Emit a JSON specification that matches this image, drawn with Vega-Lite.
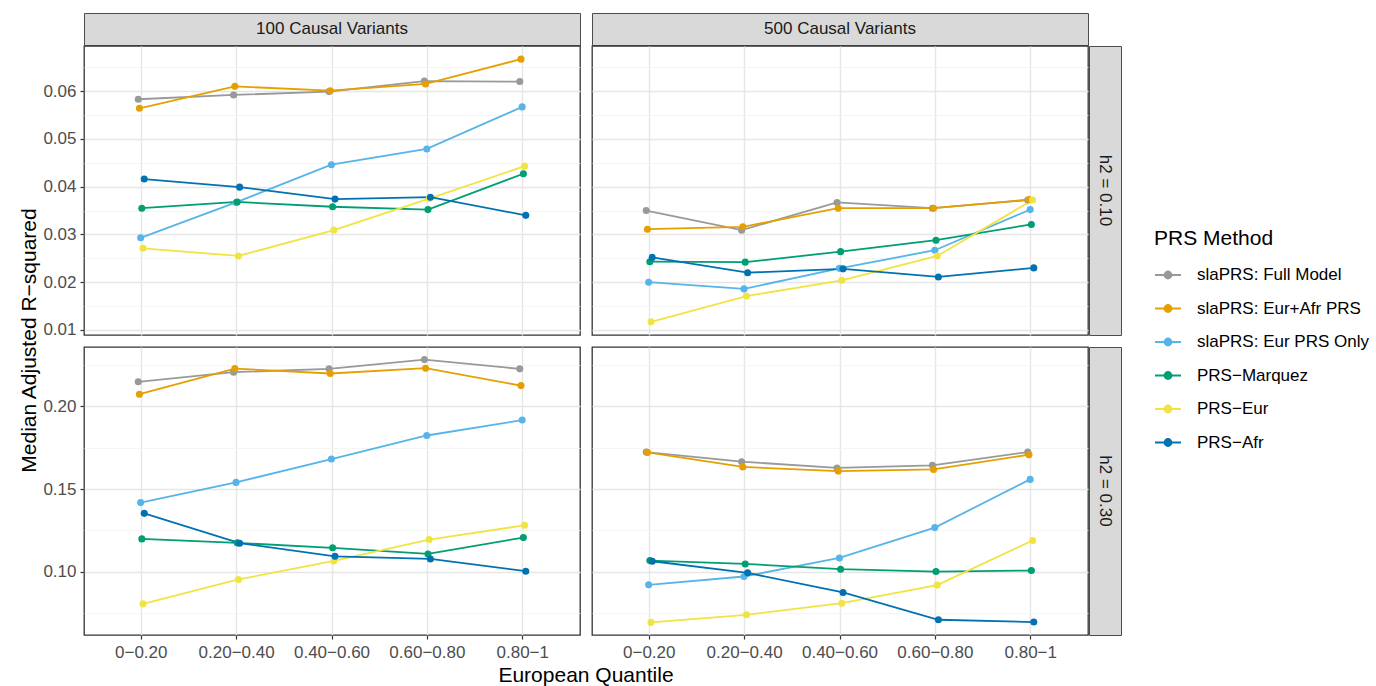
{
  "$schema": "https://vega.github.io/schema/vega-lite/v6.json",
  "background": "white",
  "padding": {"left": 19, "top": 12, "right": 5, "bottom": 0},
  "config": {
    "font": "Liberation Sans",
    "view": {"stroke": null},
    "text": {"font": "Liberation Sans"}
  },
  "datasets": {
    "prs": [
      {"variants":"100 Causal Variants","h2":"h2 = 0.10","quantile":"0−0.20","method":"slaPRS: Full Model","r2":0.0583},
      {"variants":"100 Causal Variants","h2":"h2 = 0.10","quantile":"0.20−0.40","method":"slaPRS: Full Model","r2":0.0592},
      {"variants":"100 Causal Variants","h2":"h2 = 0.10","quantile":"0.40−0.60","method":"slaPRS: Full Model","r2":0.0599},
      {"variants":"100 Causal Variants","h2":"h2 = 0.10","quantile":"0.60−0.80","method":"slaPRS: Full Model","r2":0.0621},
      {"variants":"100 Causal Variants","h2":"h2 = 0.10","quantile":"0.80−1","method":"slaPRS: Full Model","r2":0.0620},
      {"variants":"100 Causal Variants","h2":"h2 = 0.10","quantile":"0−0.20","method":"slaPRS: Eur+Afr PRS","r2":0.0564},
      {"variants":"100 Causal Variants","h2":"h2 = 0.10","quantile":"0.20−0.40","method":"slaPRS: Eur+Afr PRS","r2":0.0610},
      {"variants":"100 Causal Variants","h2":"h2 = 0.10","quantile":"0.40−0.60","method":"slaPRS: Eur+Afr PRS","r2":0.0601},
      {"variants":"100 Causal Variants","h2":"h2 = 0.10","quantile":"0.60−0.80","method":"slaPRS: Eur+Afr PRS","r2":0.0615},
      {"variants":"100 Causal Variants","h2":"h2 = 0.10","quantile":"0.80−1","method":"slaPRS: Eur+Afr PRS","r2":0.0667},
      {"variants":"100 Causal Variants","h2":"h2 = 0.10","quantile":"0−0.20","method":"slaPRS: Eur PRS Only","r2":0.0293},
      {"variants":"100 Causal Variants","h2":"h2 = 0.10","quantile":"0.20−0.40","method":"slaPRS: Eur PRS Only","r2":0.0367},
      {"variants":"100 Causal Variants","h2":"h2 = 0.10","quantile":"0.40−0.60","method":"slaPRS: Eur PRS Only","r2":0.0446},
      {"variants":"100 Causal Variants","h2":"h2 = 0.10","quantile":"0.60−0.80","method":"slaPRS: Eur PRS Only","r2":0.0479},
      {"variants":"100 Causal Variants","h2":"h2 = 0.10","quantile":"0.80−1","method":"slaPRS: Eur PRS Only","r2":0.0567},
      {"variants":"100 Causal Variants","h2":"h2 = 0.10","quantile":"0−0.20","method":"PRS−Marquez","r2":0.0355},
      {"variants":"100 Causal Variants","h2":"h2 = 0.10","quantile":"0.20−0.40","method":"PRS−Marquez","r2":0.0368},
      {"variants":"100 Causal Variants","h2":"h2 = 0.10","quantile":"0.40−0.60","method":"PRS−Marquez","r2":0.0358},
      {"variants":"100 Causal Variants","h2":"h2 = 0.10","quantile":"0.60−0.80","method":"PRS−Marquez","r2":0.0352},
      {"variants":"100 Causal Variants","h2":"h2 = 0.10","quantile":"0.80−1","method":"PRS−Marquez","r2":0.0427},
      {"variants":"100 Causal Variants","h2":"h2 = 0.10","quantile":"0−0.20","method":"PRS−Eur","r2":0.0271},
      {"variants":"100 Causal Variants","h2":"h2 = 0.10","quantile":"0.20−0.40","method":"PRS−Eur","r2":0.0255},
      {"variants":"100 Causal Variants","h2":"h2 = 0.10","quantile":"0.40−0.60","method":"PRS−Eur","r2":0.0309},
      {"variants":"100 Causal Variants","h2":"h2 = 0.10","quantile":"0.60−0.80","method":"PRS−Eur","r2":0.0375},
      {"variants":"100 Causal Variants","h2":"h2 = 0.10","quantile":"0.80−1","method":"PRS−Eur","r2":0.0443},
      {"variants":"100 Causal Variants","h2":"h2 = 0.10","quantile":"0−0.20","method":"PRS−Afr","r2":0.0416},
      {"variants":"100 Causal Variants","h2":"h2 = 0.10","quantile":"0.20−0.40","method":"PRS−Afr","r2":0.0399},
      {"variants":"100 Causal Variants","h2":"h2 = 0.10","quantile":"0.40−0.60","method":"PRS−Afr","r2":0.0374},
      {"variants":"100 Causal Variants","h2":"h2 = 0.10","quantile":"0.60−0.80","method":"PRS−Afr","r2":0.0378},
      {"variants":"100 Causal Variants","h2":"h2 = 0.10","quantile":"0.80−1","method":"PRS−Afr","r2":0.0340},

      {"variants":"500 Causal Variants","h2":"h2 = 0.10","quantile":"0−0.20","method":"slaPRS: Full Model","r2":0.0350},
      {"variants":"500 Causal Variants","h2":"h2 = 0.10","quantile":"0.20−0.40","method":"slaPRS: Full Model","r2":0.0309},
      {"variants":"500 Causal Variants","h2":"h2 = 0.10","quantile":"0.40−0.60","method":"slaPRS: Full Model","r2":0.0367},
      {"variants":"500 Causal Variants","h2":"h2 = 0.10","quantile":"0.60−0.80","method":"slaPRS: Full Model","r2":0.0355},
      {"variants":"500 Causal Variants","h2":"h2 = 0.10","quantile":"0.80−1","method":"slaPRS: Full Model","r2":0.0372},
      {"variants":"500 Causal Variants","h2":"h2 = 0.10","quantile":"0−0.20","method":"slaPRS: Eur+Afr PRS","r2":0.0311},
      {"variants":"500 Causal Variants","h2":"h2 = 0.10","quantile":"0.20−0.40","method":"slaPRS: Eur+Afr PRS","r2":0.0316},
      {"variants":"500 Causal Variants","h2":"h2 = 0.10","quantile":"0.40−0.60","method":"slaPRS: Eur+Afr PRS","r2":0.0355},
      {"variants":"500 Causal Variants","h2":"h2 = 0.10","quantile":"0.60−0.80","method":"slaPRS: Eur+Afr PRS","r2":0.0355},
      {"variants":"500 Causal Variants","h2":"h2 = 0.10","quantile":"0.80−1","method":"slaPRS: Eur+Afr PRS","r2":0.0373},
      {"variants":"500 Causal Variants","h2":"h2 = 0.10","quantile":"0−0.20","method":"slaPRS: Eur PRS Only","r2":0.0200},
      {"variants":"500 Causal Variants","h2":"h2 = 0.10","quantile":"0.20−0.40","method":"slaPRS: Eur PRS Only","r2":0.0186},
      {"variants":"500 Causal Variants","h2":"h2 = 0.10","quantile":"0.40−0.60","method":"slaPRS: Eur PRS Only","r2":0.0229},
      {"variants":"500 Causal Variants","h2":"h2 = 0.10","quantile":"0.60−0.80","method":"slaPRS: Eur PRS Only","r2":0.0267},
      {"variants":"500 Causal Variants","h2":"h2 = 0.10","quantile":"0.80−1","method":"slaPRS: Eur PRS Only","r2":0.0352},
      {"variants":"500 Causal Variants","h2":"h2 = 0.10","quantile":"0−0.20","method":"PRS−Marquez","r2":0.0243},
      {"variants":"500 Causal Variants","h2":"h2 = 0.10","quantile":"0.20−0.40","method":"PRS−Marquez","r2":0.0242},
      {"variants":"500 Causal Variants","h2":"h2 = 0.10","quantile":"0.40−0.60","method":"PRS−Marquez","r2":0.0264},
      {"variants":"500 Causal Variants","h2":"h2 = 0.10","quantile":"0.60−0.80","method":"PRS−Marquez","r2":0.0288},
      {"variants":"500 Causal Variants","h2":"h2 = 0.10","quantile":"0.80−1","method":"PRS−Marquez","r2":0.0321},
      {"variants":"500 Causal Variants","h2":"h2 = 0.10","quantile":"0−0.20","method":"PRS−Eur","r2":0.0117},
      {"variants":"500 Causal Variants","h2":"h2 = 0.10","quantile":"0.20−0.40","method":"PRS−Eur","r2":0.0171},
      {"variants":"500 Causal Variants","h2":"h2 = 0.10","quantile":"0.40−0.60","method":"PRS−Eur","r2":0.0204},
      {"variants":"500 Causal Variants","h2":"h2 = 0.10","quantile":"0.60−0.80","method":"PRS−Eur","r2":0.0255},
      {"variants":"500 Causal Variants","h2":"h2 = 0.10","quantile":"0.80−1","method":"PRS−Eur","r2":0.0372},
      {"variants":"500 Causal Variants","h2":"h2 = 0.10","quantile":"0−0.20","method":"PRS−Afr","r2":0.0252},
      {"variants":"500 Causal Variants","h2":"h2 = 0.10","quantile":"0.20−0.40","method":"PRS−Afr","r2":0.0220},
      {"variants":"500 Causal Variants","h2":"h2 = 0.10","quantile":"0.40−0.60","method":"PRS−Afr","r2":0.0228},
      {"variants":"500 Causal Variants","h2":"h2 = 0.10","quantile":"0.60−0.80","method":"PRS−Afr","r2":0.0211},
      {"variants":"500 Causal Variants","h2":"h2 = 0.10","quantile":"0.80−1","method":"PRS−Afr","r2":0.0230},

      {"variants":"100 Causal Variants","h2":"h2 = 0.30","quantile":"0−0.20","method":"slaPRS: Full Model","r2":0.2147},
      {"variants":"100 Causal Variants","h2":"h2 = 0.30","quantile":"0.20−0.40","method":"slaPRS: Full Model","r2":0.2205},
      {"variants":"100 Causal Variants","h2":"h2 = 0.30","quantile":"0.40−0.60","method":"slaPRS: Full Model","r2":0.2225},
      {"variants":"100 Causal Variants","h2":"h2 = 0.30","quantile":"0.60−0.80","method":"slaPRS: Full Model","r2":0.2281},
      {"variants":"100 Causal Variants","h2":"h2 = 0.30","quantile":"0.80−1","method":"slaPRS: Full Model","r2":0.2225},
      {"variants":"100 Causal Variants","h2":"h2 = 0.30","quantile":"0−0.20","method":"slaPRS: Eur+Afr PRS","r2":0.2072},
      {"variants":"100 Causal Variants","h2":"h2 = 0.30","quantile":"0.20−0.40","method":"slaPRS: Eur+Afr PRS","r2":0.2227},
      {"variants":"100 Causal Variants","h2":"h2 = 0.30","quantile":"0.40−0.60","method":"slaPRS: Eur+Afr PRS","r2":0.2197},
      {"variants":"100 Causal Variants","h2":"h2 = 0.30","quantile":"0.60−0.80","method":"slaPRS: Eur+Afr PRS","r2":0.2229},
      {"variants":"100 Causal Variants","h2":"h2 = 0.30","quantile":"0.80−1","method":"slaPRS: Eur+Afr PRS","r2":0.2124},
      {"variants":"100 Causal Variants","h2":"h2 = 0.30","quantile":"0−0.20","method":"slaPRS: Eur PRS Only","r2":0.1418},
      {"variants":"100 Causal Variants","h2":"h2 = 0.30","quantile":"0.20−0.40","method":"slaPRS: Eur PRS Only","r2":0.1540},
      {"variants":"100 Causal Variants","h2":"h2 = 0.30","quantile":"0.40−0.60","method":"slaPRS: Eur PRS Only","r2":0.1681},
      {"variants":"100 Causal Variants","h2":"h2 = 0.30","quantile":"0.60−0.80","method":"slaPRS: Eur PRS Only","r2":0.1823},
      {"variants":"100 Causal Variants","h2":"h2 = 0.30","quantile":"0.80−1","method":"slaPRS: Eur PRS Only","r2":0.1916},
      {"variants":"100 Causal Variants","h2":"h2 = 0.30","quantile":"0−0.20","method":"PRS−Marquez","r2":0.1199},
      {"variants":"100 Causal Variants","h2":"h2 = 0.30","quantile":"0.20−0.40","method":"PRS−Marquez","r2":0.1175},
      {"variants":"100 Causal Variants","h2":"h2 = 0.30","quantile":"0.40−0.60","method":"PRS−Marquez","r2":0.1145},
      {"variants":"100 Causal Variants","h2":"h2 = 0.30","quantile":"0.60−0.80","method":"PRS−Marquez","r2":0.1108},
      {"variants":"100 Causal Variants","h2":"h2 = 0.30","quantile":"0.80−1","method":"PRS−Marquez","r2":0.1207},
      {"variants":"100 Causal Variants","h2":"h2 = 0.30","quantile":"0−0.20","method":"PRS−Eur","r2":0.0807},
      {"variants":"100 Causal Variants","h2":"h2 = 0.30","quantile":"0.20−0.40","method":"PRS−Eur","r2":0.0954},
      {"variants":"100 Causal Variants","h2":"h2 = 0.30","quantile":"0.40−0.60","method":"PRS−Eur","r2":0.1066},
      {"variants":"100 Causal Variants","h2":"h2 = 0.30","quantile":"0.60−0.80","method":"PRS−Eur","r2":0.1195},
      {"variants":"100 Causal Variants","h2":"h2 = 0.30","quantile":"0.80−1","method":"PRS−Eur","r2":0.1281},
      {"variants":"100 Causal Variants","h2":"h2 = 0.30","quantile":"0−0.20","method":"PRS−Afr","r2":0.1353},
      {"variants":"100 Causal Variants","h2":"h2 = 0.30","quantile":"0.20−0.40","method":"PRS−Afr","r2":0.1173},
      {"variants":"100 Causal Variants","h2":"h2 = 0.30","quantile":"0.40−0.60","method":"PRS−Afr","r2":0.1094},
      {"variants":"100 Causal Variants","h2":"h2 = 0.30","quantile":"0.60−0.80","method":"PRS−Afr","r2":0.1078},
      {"variants":"100 Causal Variants","h2":"h2 = 0.30","quantile":"0.80−1","method":"PRS−Afr","r2":0.1004},

      {"variants":"500 Causal Variants","h2":"h2 = 0.30","quantile":"0−0.20","method":"slaPRS: Full Model","r2":0.1723},
      {"variants":"500 Causal Variants","h2":"h2 = 0.30","quantile":"0.20−0.40","method":"slaPRS: Full Model","r2":0.1665},
      {"variants":"500 Causal Variants","h2":"h2 = 0.30","quantile":"0.40−0.60","method":"slaPRS: Full Model","r2":0.1627},
      {"variants":"500 Causal Variants","h2":"h2 = 0.30","quantile":"0.60−0.80","method":"slaPRS: Full Model","r2":0.1643},
      {"variants":"500 Causal Variants","h2":"h2 = 0.30","quantile":"0.80−1","method":"slaPRS: Full Model","r2":0.1723},
      {"variants":"500 Causal Variants","h2":"h2 = 0.30","quantile":"0−0.20","method":"slaPRS: Eur+Afr PRS","r2":0.1721},
      {"variants":"500 Causal Variants","h2":"h2 = 0.30","quantile":"0.20−0.40","method":"slaPRS: Eur+Afr PRS","r2":0.1633},
      {"variants":"500 Causal Variants","h2":"h2 = 0.30","quantile":"0.40−0.60","method":"slaPRS: Eur+Afr PRS","r2":0.1608},
      {"variants":"500 Causal Variants","h2":"h2 = 0.30","quantile":"0.60−0.80","method":"slaPRS: Eur+Afr PRS","r2":0.1618},
      {"variants":"500 Causal Variants","h2":"h2 = 0.30","quantile":"0.80−1","method":"slaPRS: Eur+Afr PRS","r2":0.1707},
      {"variants":"500 Causal Variants","h2":"h2 = 0.30","quantile":"0−0.20","method":"slaPRS: Eur PRS Only","r2":0.0922},
      {"variants":"500 Causal Variants","h2":"h2 = 0.30","quantile":"0.20−0.40","method":"slaPRS: Eur PRS Only","r2":0.0972},
      {"variants":"500 Causal Variants","h2":"h2 = 0.30","quantile":"0.40−0.60","method":"slaPRS: Eur PRS Only","r2":0.1084},
      {"variants":"500 Causal Variants","h2":"h2 = 0.30","quantile":"0.60−0.80","method":"slaPRS: Eur PRS Only","r2":0.1267},
      {"variants":"500 Causal Variants","h2":"h2 = 0.30","quantile":"0.80−1","method":"slaPRS: Eur PRS Only","r2":0.1558},
      {"variants":"500 Causal Variants","h2":"h2 = 0.30","quantile":"0−0.20","method":"PRS−Marquez","r2":0.1068},
      {"variants":"500 Causal Variants","h2":"h2 = 0.30","quantile":"0.20−0.40","method":"PRS−Marquez","r2":0.1048},
      {"variants":"500 Causal Variants","h2":"h2 = 0.30","quantile":"0.40−0.60","method":"PRS−Marquez","r2":0.1016},
      {"variants":"500 Causal Variants","h2":"h2 = 0.30","quantile":"0.60−0.80","method":"PRS−Marquez","r2":0.1002},
      {"variants":"500 Causal Variants","h2":"h2 = 0.30","quantile":"0.80−1","method":"PRS−Marquez","r2":0.1008},
      {"variants":"500 Causal Variants","h2":"h2 = 0.30","quantile":"0−0.20","method":"PRS−Eur","r2":0.0695},
      {"variants":"500 Causal Variants","h2":"h2 = 0.30","quantile":"0.20−0.40","method":"PRS−Eur","r2":0.0741},
      {"variants":"500 Causal Variants","h2":"h2 = 0.30","quantile":"0.40−0.60","method":"PRS−Eur","r2":0.0811},
      {"variants":"500 Causal Variants","h2":"h2 = 0.30","quantile":"0.60−0.80","method":"PRS−Eur","r2":0.0920},
      {"variants":"500 Causal Variants","h2":"h2 = 0.30","quantile":"0.80−1","method":"PRS−Eur","r2":0.1189},
      {"variants":"500 Causal Variants","h2":"h2 = 0.30","quantile":"0−0.20","method":"PRS−Afr","r2":0.1064},
      {"variants":"500 Causal Variants","h2":"h2 = 0.30","quantile":"0.20−0.40","method":"PRS−Afr","r2":0.0994},
      {"variants":"500 Causal Variants","h2":"h2 = 0.30","quantile":"0.40−0.60","method":"PRS−Afr","r2":0.0876},
      {"variants":"500 Causal Variants","h2":"h2 = 0.30","quantile":"0.60−0.80","method":"PRS−Afr","r2":0.0711},
      {"variants":"500 Causal Variants","h2":"h2 = 0.30","quantile":"0.80−1","method":"PRS−Afr","r2":0.0697}
    ]
  },
  "hconcat": [
    {
      "width": 22, "height": 655,
      "data": {"values": [{"t": "Median Adjusted R−squared"}]},
      "mark": {"type": "text", "angle": 270, "fontSize": 21, "color": "#000000"},
      "encoding": {"text": {"field": "t"}}
    },
    {
      "vconcat": [
        {
          "vconcat": [
            {
              "vconcat": [
                {
                  "hconcat": [
                    {
                      "width": 496, "height": 32,
                      "view": {"fill": "#d9d9d9", "stroke": "#4d4d4d", "strokeWidth": 1},
                      "data": {"values": [{"label": "100 Causal Variants"}]},
                      "mark": {"type": "text", "fontSize": 17, "color": "#1a1a1a"},
                      "encoding": {"text": {"field": "label"}}
                    },
                    {
                      "width": 496, "height": 32,
                      "view": {"fill": "#d9d9d9", "stroke": "#4d4d4d", "strokeWidth": 1},
                      "data": {"values": [{"label": "500 Causal Variants"}]},
                      "mark": {"type": "text", "fontSize": 17, "color": "#1a1a1a"},
                      "encoding": {"text": {"field": "label"}}
                    }
                  ],
                  "spacing": 10
                },
                {
                  "hconcat": [
                    {
                      "width": 496, "height": 289,
                      "view": {"stroke": "#333333", "strokeWidth": 1.3},
                      "data": {"name": "prs"},
                      "transform": [{"filter": "datum.variants === '100 Causal Variants' && datum.h2 === 'h2 = 0.10'"}],
                      "encoding": {
                        "x": {"field": "quantile", "type": "ordinal", "sort": ["0−0.20","0.20−0.40","0.40−0.60","0.60−0.80","0.80−1"], "scale": {"type": "band", "paddingInner": 0, "paddingOuter": 0.1}, "axis": {"title": null, "labels": false, "ticks": false, "domain": false, "grid": true, "gridColor": "#e6e6e6", "gridWidth": 1.4, "bandPosition": 0.5}},
                        "xOffset": {"field": "method", "type": "nominal", "sort": ["slaPRS: Full Model","slaPRS: Eur+Afr PRS","slaPRS: Eur PRS Only","PRS−Marquez","PRS−Eur","PRS−Afr"], "scale": {"range": [44.7, 50.7], "paddingInner": 0, "paddingOuter": 0}},
                        "y": {"field": "r2", "type": "quantitative", "scale": {"domain": [0.00895, 0.06945], "nice": false, "zero": false}, "axis": {"title": null, "values": [0.01,0.015,0.02,0.025,0.03,0.035,0.04,0.045,0.05,0.055,0.06,0.065], "labelExpr": "round(datum.value*1000) % 10 === 0 ? format(datum.value, '.2f') : ''", "labelOverlap": false, "domain": false, "tickSize": 4, "tickColor": "#333333", "tickWidth": 1.2, "tickOpacity": {"condition": {"test": "round(datum.value*1000) % 10 !== 0", "value": 0}, "value": 1}, "gridColor": {"condition": {"test": "round(datum.value*1000) % 10 !== 0", "value": "#f2f2f2"}, "value": "#e6e6e6"}, "gridWidth": {"condition": {"test": "round(datum.value*1000) % 10 !== 0", "value": 0.8}, "value": 1.4}, "labelFontSize": 17, "labelColor": "#4d4d4d", "labelPadding": 4, "labelFont": "Liberation Sans"}},
                        "color": {"field": "method", "type": "nominal", "scale": {"domain": ["slaPRS: Full Model","slaPRS: Eur+Afr PRS","slaPRS: Eur PRS Only","PRS−Marquez","PRS−Eur","PRS−Afr"], "range": ["#999999","#E69F00","#56B4E9","#009E73","#F0E442","#0072B2"]}, "legend": {"title": "PRS Method", "orient": "none", "legendX": 1135, "legendY": 215, "titleFontSize": 21, "titleFont": "Liberation Sans", "titleFontWeight": "normal", "titleColor": "#000000", "titlePadding": 12, "labelFontSize": 17, "labelFont": "Liberation Sans", "labelColor": "#000000", "labelOffset": 15, "labelLimit": 400, "symbolType": "M-1,0L1,0M-0.27,0A0.27,0.27,0,1,1,0.27,0A0.27,0.27,0,1,1,-0.27,0Z", "symbolSize": 676, "symbolStrokeWidth": 1.8, "symbolOpacity": 1, "rowPadding": 11.5, "encode": {"symbols": {"update": {"fill": {"scale": "color", "field": "value"}, "stroke": {"scale": "color", "field": "value"}}}}}}
                      },
                      "layer": [
                        {"mark": {"type": "line", "strokeWidth": 1.8}},
                        {"mark": {"type": "point", "filled": true, "size": 50, "opacity": 1}}
                      ]
                    },
                    {
                      "hconcat": [
                        {
                          "width": 496, "height": 289,
                          "view": {"stroke": "#333333", "strokeWidth": 1.3},
                          "data": {"name": "prs"},
                          "transform": [{"filter": "datum.variants === '500 Causal Variants' && datum.h2 === 'h2 = 0.10'"}],
                          "encoding": {
                            "x": {"field": "quantile", "type": "ordinal", "sort": ["0−0.20","0.20−0.40","0.40−0.60","0.60−0.80","0.80−1"], "scale": {"type": "band", "paddingInner": 0, "paddingOuter": 0.1}, "axis": {"title": null, "labels": false, "ticks": false, "domain": false, "grid": true, "gridColor": "#e6e6e6", "gridWidth": 1.4, "bandPosition": 0.5}},
                            "xOffset": {"field": "method", "type": "nominal", "sort": ["slaPRS: Full Model","slaPRS: Eur+Afr PRS","slaPRS: Eur PRS Only","PRS−Marquez","PRS−Eur","PRS−Afr"], "scale": {"range": [44.7, 50.7], "paddingInner": 0, "paddingOuter": 0}},
                            "y": {"field": "r2", "type": "quantitative", "scale": {"domain": [0.00895, 0.06945], "nice": false, "zero": false}, "axis": {"title": null, "values": [0.01,0.015,0.02,0.025,0.03,0.035,0.04,0.045,0.05,0.055,0.06,0.065], "labels": false, "ticks": false, "domain": false, "gridColor": {"condition": {"test": "round(datum.value*1000) % 10 !== 0", "value": "#f2f2f2"}, "value": "#e6e6e6"}, "gridWidth": {"condition": {"test": "round(datum.value*1000) % 10 !== 0", "value": 0.8}, "value": 1.4}}},
                            "color": {"field": "method", "type": "nominal", "scale": {"domain": ["slaPRS: Full Model","slaPRS: Eur+Afr PRS","slaPRS: Eur PRS Only","PRS−Marquez","PRS−Eur","PRS−Afr"], "range": ["#999999","#E69F00","#56B4E9","#009E73","#F0E442","#0072B2"]}, "legend": {"title": "PRS Method", "orient": "none", "legendX": 1135, "legendY": 215, "titleFontSize": 21, "titleFont": "Liberation Sans", "titleFontWeight": "normal", "titleColor": "#000000", "titlePadding": 12, "labelFontSize": 17, "labelFont": "Liberation Sans", "labelColor": "#000000", "labelOffset": 15, "labelLimit": 400, "symbolType": "M-1,0L1,0M-0.27,0A0.27,0.27,0,1,1,0.27,0A0.27,0.27,0,1,1,-0.27,0Z", "symbolSize": 676, "symbolStrokeWidth": 1.8, "symbolOpacity": 1, "rowPadding": 11.5, "encode": {"symbols": {"update": {"fill": {"scale": "color", "field": "value"}, "stroke": {"scale": "color", "field": "value"}}}}}}
                          },
                          "layer": [
                            {"mark": {"type": "line", "strokeWidth": 1.8}},
                            {"mark": {"type": "point", "filled": true, "size": 50, "opacity": 1}}
                          ]
                        },
                        {
                          "width": 32, "height": 289,
                          "view": {"fill": "#d9d9d9", "stroke": "#4d4d4d", "strokeWidth": 1},
                          "data": {"values": [{"label": "h2 = 0.10"}]},
                          "mark": {"type": "text", "angle": 90, "fontSize": 17, "color": "#1a1a1a"},
                          "encoding": {"text": {"field": "label"}}
                        }
                      ],
                      "spacing": -1,
                      "resolve": {"scale": {"xOffset": "independent"}}
                    }
                  ],
                  "spacing": 10,
                  "resolve": {"scale": {"xOffset": "independent"}}
                }
              ],
              "spacing": -1,
              "resolve": {"scale": {"xOffset": "independent"}}
            },
            {
              "hconcat": [
                {
                  "width": 496, "height": 288,
                  "view": {"stroke": "#333333", "strokeWidth": 1.3},
                  "data": {"name": "prs"},
                  "transform": [{"filter": "datum.variants === '100 Causal Variants' && datum.h2 === 'h2 = 0.30'"}],
                  "encoding": {
                    "x": {"field": "quantile", "type": "ordinal", "sort": ["0−0.20","0.20−0.40","0.40−0.60","0.60−0.80","0.80−1"], "scale": {"type": "band", "paddingInner": 0, "paddingOuter": 0.1}, "axis": {"title": null, "labelAngle": 0, "domain": false, "grid": true, "gridColor": "#e6e6e6", "gridWidth": 1.4, "bandPosition": 0.5, "tickSize": 4, "tickColor": "#333333", "tickWidth": 1.2, "labelFontSize": 17, "labelColor": "#4d4d4d", "labelPadding": 5, "labelFont": "Liberation Sans"}},
                    "xOffset": {"field": "method", "type": "nominal", "sort": ["slaPRS: Full Model","slaPRS: Eur+Afr PRS","slaPRS: Eur PRS Only","PRS−Marquez","PRS−Eur","PRS−Afr"], "scale": {"range": [44.7, 50.7], "paddingInner": 0, "paddingOuter": 0}},
                    "y": {"field": "r2", "type": "quantitative", "scale": {"domain": [0.0619, 0.2357], "nice": false, "zero": false}, "axis": {"title": null, "values": [0.075,0.1,0.125,0.15,0.175,0.2,0.225], "labelExpr": "round(datum.value*1000) % 50 === 0 ? format(datum.value, '.2f') : ''", "labelOverlap": false, "domain": false, "tickSize": 4, "tickColor": "#333333", "tickWidth": 1.2, "tickOpacity": {"condition": {"test": "round(datum.value*1000) % 50 !== 0", "value": 0}, "value": 1}, "gridColor": {"condition": {"test": "round(datum.value*1000) % 50 !== 0", "value": "#f2f2f2"}, "value": "#e6e6e6"}, "gridWidth": {"condition": {"test": "round(datum.value*1000) % 50 !== 0", "value": 0.8}, "value": 1.4}, "labelFontSize": 17, "labelColor": "#4d4d4d", "labelPadding": 4, "labelFont": "Liberation Sans"}},
                    "color": {"field": "method", "type": "nominal", "scale": {"domain": ["slaPRS: Full Model","slaPRS: Eur+Afr PRS","slaPRS: Eur PRS Only","PRS−Marquez","PRS−Eur","PRS−Afr"], "range": ["#999999","#E69F00","#56B4E9","#009E73","#F0E442","#0072B2"]}, "legend": {"title": "PRS Method", "orient": "none", "legendX": 1135, "legendY": 215, "titleFontSize": 21, "titleFont": "Liberation Sans", "titleFontWeight": "normal", "titleColor": "#000000", "titlePadding": 12, "labelFontSize": 17, "labelFont": "Liberation Sans", "labelColor": "#000000", "labelOffset": 15, "labelLimit": 400, "symbolType": "M-1,0L1,0M-0.27,0A0.27,0.27,0,1,1,0.27,0A0.27,0.27,0,1,1,-0.27,0Z", "symbolSize": 676, "symbolStrokeWidth": 1.8, "symbolOpacity": 1, "rowPadding": 11.5, "encode": {"symbols": {"update": {"fill": {"scale": "color", "field": "value"}, "stroke": {"scale": "color", "field": "value"}}}}}}
                  },
                  "layer": [
                    {"mark": {"type": "line", "strokeWidth": 1.8}},
                    {"mark": {"type": "point", "filled": true, "size": 50, "opacity": 1}}
                  ]
                },
                {
                  "hconcat": [
                    {
                      "width": 496, "height": 288,
                      "view": {"stroke": "#333333", "strokeWidth": 1.3},
                      "data": {"name": "prs"},
                      "transform": [{"filter": "datum.variants === '500 Causal Variants' && datum.h2 === 'h2 = 0.30'"}],
                      "encoding": {
                        "x": {"field": "quantile", "type": "ordinal", "sort": ["0−0.20","0.20−0.40","0.40−0.60","0.60−0.80","0.80−1"], "scale": {"type": "band", "paddingInner": 0, "paddingOuter": 0.1}, "axis": {"title": null, "labelAngle": 0, "domain": false, "grid": true, "gridColor": "#e6e6e6", "gridWidth": 1.4, "bandPosition": 0.5, "tickSize": 4, "tickColor": "#333333", "tickWidth": 1.2, "labelFontSize": 17, "labelColor": "#4d4d4d", "labelPadding": 5, "labelFont": "Liberation Sans"}},
                        "xOffset": {"field": "method", "type": "nominal", "sort": ["slaPRS: Full Model","slaPRS: Eur+Afr PRS","slaPRS: Eur PRS Only","PRS−Marquez","PRS−Eur","PRS−Afr"], "scale": {"range": [44.7, 50.7], "paddingInner": 0, "paddingOuter": 0}},
                        "y": {"field": "r2", "type": "quantitative", "scale": {"domain": [0.0619, 0.2357], "nice": false, "zero": false}, "axis": {"title": null, "values": [0.075,0.1,0.125,0.15,0.175,0.2,0.225], "labels": false, "ticks": false, "domain": false, "gridColor": {"condition": {"test": "round(datum.value*1000) % 50 !== 0", "value": "#f2f2f2"}, "value": "#e6e6e6"}, "gridWidth": {"condition": {"test": "round(datum.value*1000) % 50 !== 0", "value": 0.8}, "value": 1.4}}},
                        "color": {"field": "method", "type": "nominal", "scale": {"domain": ["slaPRS: Full Model","slaPRS: Eur+Afr PRS","slaPRS: Eur PRS Only","PRS−Marquez","PRS−Eur","PRS−Afr"], "range": ["#999999","#E69F00","#56B4E9","#009E73","#F0E442","#0072B2"]}, "legend": {"title": "PRS Method", "orient": "none", "legendX": 1135, "legendY": 215, "titleFontSize": 21, "titleFont": "Liberation Sans", "titleFontWeight": "normal", "titleColor": "#000000", "titlePadding": 12, "labelFontSize": 17, "labelFont": "Liberation Sans", "labelColor": "#000000", "labelOffset": 15, "labelLimit": 400, "symbolType": "M-1,0L1,0M-0.27,0A0.27,0.27,0,1,1,0.27,0A0.27,0.27,0,1,1,-0.27,0Z", "symbolSize": 676, "symbolStrokeWidth": 1.8, "symbolOpacity": 1, "rowPadding": 11.5, "encode": {"symbols": {"update": {"fill": {"scale": "color", "field": "value"}, "stroke": {"scale": "color", "field": "value"}}}}}}
                      },
                      "layer": [
                        {"mark": {"type": "line", "strokeWidth": 1.8}},
                        {"mark": {"type": "point", "filled": true, "size": 50, "opacity": 1}}
                      ]
                    },
                    {
                      "width": 32, "height": 288,
                      "view": {"fill": "#d9d9d9", "stroke": "#4d4d4d", "strokeWidth": 1},
                      "data": {"values": [{"label": "h2 = 0.30"}]},
                      "mark": {"type": "text", "angle": 90, "fontSize": 17, "color": "#1a1a1a"},
                      "encoding": {"text": {"field": "label"}}
                    }
                  ],
                  "spacing": -1,
                  "resolve": {"scale": {"xOffset": "independent"}}
                }
              ],
              "spacing": 10,
              "resolve": {"scale": {"xOffset": "independent"}}
            }
          ],
          "spacing": 7,
          "resolve": {"scale": {"xOffset": "independent"}}
        },
        {
          "width": 1004, "height": 24,
          "data": {"values": [{"t": "European Quantile"}]},
          "mark": {"type": "text", "fontSize": 21, "color": "#000000"},
          "encoding": {"text": {"field": "t"}}
        }
      ],
      "spacing": 3,
      "resolve": {"scale": {"xOffset": "independent"}}
    }
  ],
  "spacing": 1,
  "resolve": {"scale": {"xOffset": "independent"}}
}
